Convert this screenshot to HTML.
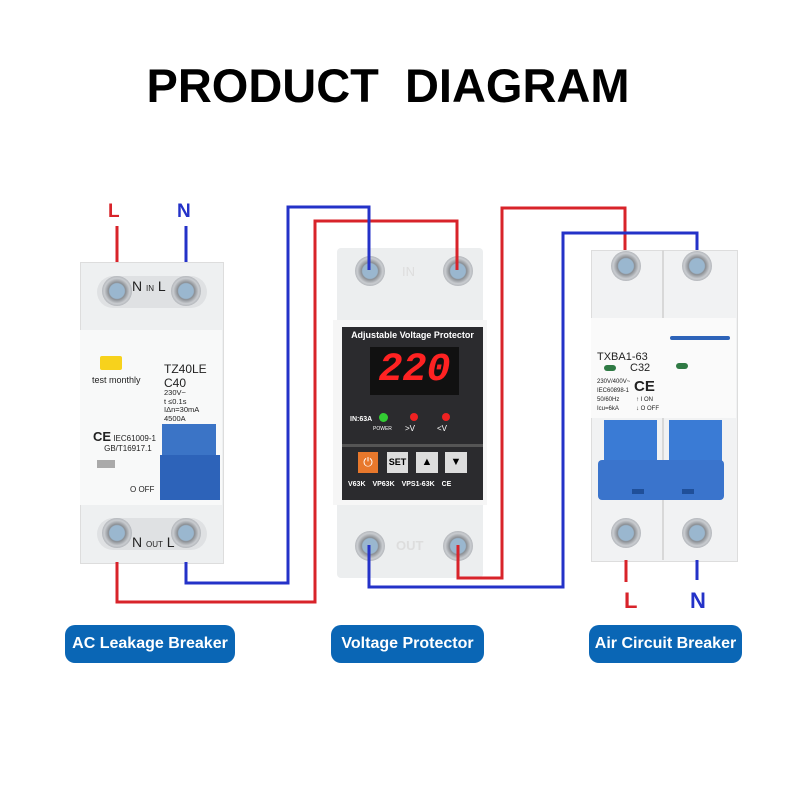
<!DOCTYPE html>
<html><head><meta charset="utf-8"><style>
body{margin:0;width:800px;height:800px;background:#fff;position:relative;overflow:hidden;font-family:"Liberation Sans",sans-serif}
.a{position:absolute}
.title{left:0;width:776px;text-align:center;top:58px;font-size:47px;font-weight:bold;color:#000;white-space:pre}
.pill{background:#0a66b5;color:#fff;border-radius:10px;font-size:16px;font-weight:bold;display:flex;align-items:center;justify-content:center;height:38px;top:625px}
.scr{border-radius:50%;width:30px;height:30px;background:radial-gradient(circle,#9ab7cf 0 35%,#8b8f94 40%,#c9ccd0 60%,#7d8086 100%)}
.t{color:#222;font-size:9px}
</style></head><body>
<div class="a title">PRODUCT  DIAGRAM</div>

<!-- left breaker -->
<div class="a" style="left:80px;top:262px;width:142px;height:300px;background:#eef0f1;border:1px solid #ddd"></div>
<div class="a" style="left:80px;top:330px;width:142px;height:175px;background:#f8f9f9"></div>
<div class="a" style="left:97px;top:276px;width:110px;height:32px;background:#dfe1e3;border-radius:16px"></div>
<div class="a scr" style="left:102px;top:276px"></div><div class="a scr" style="left:171px;top:276px"></div>
<div class="a t" style="left:132px;top:278px;font-size:14px">N <span style="font-size:8px">IN</span> L</div>
<div class="a" style="left:100px;top:356px;width:22px;height:14px;background:#f7d21c;border-radius:2px"></div>
<div class="a t" style="left:92px;top:375px">test monthly</div>
<div class="a t" style="left:164px;top:362px;font-size:12px;line-height:14px">TZ40LE<br>C40</div>
<div class="a t" style="left:164px;top:389px;font-size:7.5px;line-height:8.5px">230V~<br>t ≤0.1s<br>IΔn=30mA<br>4500A</div>
<div class="a t" style="left:93px;top:432px;font-size:8px;line-height:10px"><b style="font-size:13px">CE</b> IEC61009-1<br>&nbsp;&nbsp;&nbsp;&nbsp;&nbsp;GB/T16917.1</div>
<div class="a" style="left:97px;top:460px;width:18px;height:8px;background:#aaa"></div>
<div class="a t" style="left:130px;top:485px;font-size:8px">O OFF</div>
<div class="a" style="left:162px;top:424px;width:54px;height:36px;background:#3b74c6"></div>
<div class="a" style="left:160px;top:455px;width:60px;height:45px;background:#2d63b9"></div>
<div class="a" style="left:97px;top:518px;width:110px;height:32px;background:#dfe1e3;border-radius:16px"></div>
<div class="a scr" style="left:102px;top:518px"></div><div class="a scr" style="left:171px;top:518px"></div>
<div class="a t" style="left:132px;top:534px;font-size:14px">N <span style="font-size:8px">OUT</span> L</div>

<!-- protector -->
<div class="a" style="left:337px;top:248px;width:146px;height:330px;background:#eceeef;border-radius:4px"></div>
<div class="a" style="left:333px;top:320px;width:154px;height:185px;background:#f6f6f6"></div>
<div class="a scr" style="left:355px;top:256px"></div><div class="a scr" style="left:443px;top:256px"></div>
<div class="a scr" style="left:355px;top:531px"></div><div class="a scr" style="left:443px;top:531px"></div>
<div class="a" style="left:402px;top:264px;color:#ddd;font-size:13px">IN</div>
<div class="a" style="left:396px;top:538px;color:#ddd;font-size:13px;font-weight:bold">OUT</div>
<div class="a" style="left:342px;top:327px;width:141px;height:173px;background:#2b2b2e"></div>
<div class="a" style="left:342px;top:330px;width:141px;text-align:center;color:#fff;font-size:9px;font-weight:bold">Adjustable Voltage Protector</div>
<div class="a" style="left:370px;top:347px;width:89px;height:48px;background:#111;color:#f22;font-family:'Liberation Mono',monospace;font-size:40px;font-weight:bold;text-align:center;line-height:48px;font-style:italic">220</div>
<div class="a" style="left:350px;top:416px;color:#fff;font-size:7px;font-weight:bold">IN:63A</div>
<div class="a" style="left:379px;top:413px;width:9px;height:9px;border-radius:50%;background:#3c3"></div>
<div class="a" style="left:410px;top:413px;width:8px;height:8px;border-radius:50%;background:#e22"></div>
<div class="a" style="left:442px;top:413px;width:8px;height:8px;border-radius:50%;background:#e22"></div>
<div class="a" style="left:373px;top:426px;color:#fff;font-size:5px">POWER</div>
<div class="a" style="left:405px;top:424px;color:#fff;font-size:8px">&gt;V</div>
<div class="a" style="left:437px;top:424px;color:#fff;font-size:8px">&lt;V</div>
<div class="a" style="left:342px;top:444px;width:141px;height:3px;background:#555"></div>
<div class="a" style="left:358px;top:452px;width:20px;height:21px;background:#e8782c;color:#fff;font-size:12px;text-align:center;line-height:21px">⏻</div>
<div class="a" style="left:387px;top:452px;width:21px;height:21px;background:#ddd;font-size:9px;font-weight:bold;text-align:center;line-height:21px">SET</div>
<div class="a" style="left:416px;top:452px;width:22px;height:21px;background:#ddd;font-size:11px;text-align:center;line-height:21px">▲</div>
<div class="a" style="left:445px;top:452px;width:22px;height:21px;background:#ddd;font-size:11px;text-align:center;line-height:21px">▼</div>
<div class="a" style="left:348px;top:481px;color:#fff;font-size:7px;font-weight:bold;word-spacing:5px">V63K VP63K VPS1-63K CE</div>

<!-- right breaker -->
<div class="a" style="left:591px;top:250px;width:145px;height:310px;background:#f1f2f3;border:1px solid #ddd"></div>
<div class="a" style="left:662px;top:250px;width:2px;height:310px;background:#d8d8d8"></div>
<div class="a" style="left:591px;top:318px;width:145px;height:100px;background:#fafafa"></div>
<div class="a scr" style="left:611px;top:251px"></div><div class="a scr" style="left:682px;top:251px"></div>
<div class="a scr" style="left:611px;top:518px"></div><div class="a scr" style="left:682px;top:518px"></div>
<div class="a" style="left:670px;top:336px;width:60px;height:4px;background:#2d63b9;border-radius:2px"></div>
<div class="a" style="left:604px;top:365px;width:12px;height:6px;background:#2f7a44;border-radius:3px"></div>
<div class="a" style="left:676px;top:363px;width:12px;height:6px;background:#2f7a44;border-radius:3px"></div>
<div class="a t" style="left:597px;top:351px;font-size:11px">TXBA1-63</div>
<div class="a t" style="left:630px;top:362px;font-size:11px">C32</div>
<div class="a t" style="left:597px;top:378px;font-size:6px;line-height:9px">230V/400V~<br>IEC60898-1<br>50/60Hz<br>Icu=6kA</div>
<div class="a t" style="left:634px;top:378px;font-size:15px;font-weight:bold">CE</div>
<div class="a t" style="left:636px;top:396px;font-size:6px;line-height:9px">↑ I ON<br>↓ O OFF</div>
<div class="a" style="left:604px;top:420px;width:53px;height:50px;background:#3a7bd5"></div>
<div class="a" style="left:669px;top:420px;width:53px;height:50px;background:#3a7bd5"></div>
<div class="a" style="left:598px;top:460px;width:126px;height:40px;background:#3a74cc;border-radius:4px"></div>
<div class="a" style="left:632px;top:489px;width:12px;height:5px;background:#1f4f99"></div>
<div class="a" style="left:682px;top:489px;width:12px;height:5px;background:#1f4f99"></div>

<svg class="a" style="left:0;top:0" width="800" height="800" fill="none" stroke-width="3">
<g stroke="#d8232a">
<polyline points="117,226 117,262"/>
<polyline points="117,562 117,602 315,602 315,221 457,221 457,270"/>
<polyline points="458,545 458,578 502,578 502,208 625,208 625,250"/>
<polyline points="626,560 626,582"/>
</g>
<g stroke="#2432c8">
<polyline points="186,226 186,262"/>
<polyline points="186,562 186,583 288,583 288,207 369,207 369,270"/>
<polyline points="369,545 369,587 563,587 563,233 697,233 697,250"/>
<polyline points="697,560 697,580"/>
</g>
<text x="108" y="217" fill="#d8232a" stroke="none" font-size="19" font-weight="bold" font-family="Liberation Sans">L</text>
<text x="177" y="217" fill="#2432c8" stroke="none" font-size="19" font-weight="bold" font-family="Liberation Sans">N</text>
<text x="624" y="608" fill="#d8232a" stroke="none" font-size="22" font-weight="bold" font-family="Liberation Sans">L</text>
<text x="690" y="608" fill="#2432c8" stroke="none" font-size="22" font-weight="bold" font-family="Liberation Sans">N</text>
</svg>

<div class="a pill" style="left:65px;width:170px">AC Leakage Breaker</div>
<div class="a pill" style="left:331px;width:153px">Voltage Protector</div>
<div class="a pill" style="left:589px;width:153px">Air Circuit Breaker</div>
</body></html>
